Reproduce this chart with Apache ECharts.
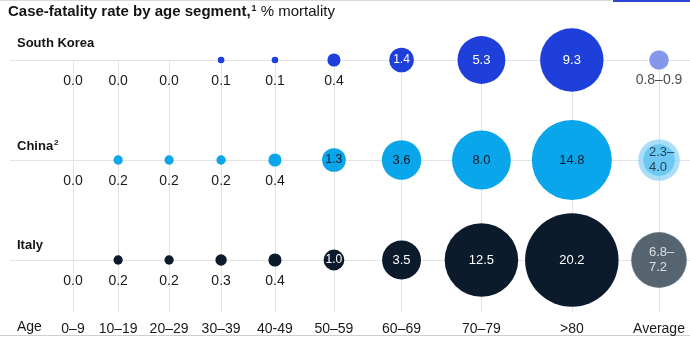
<!DOCTYPE html>
<html>
<head>
<meta charset="utf-8">
<script src="https://cdn.jsdelivr.net/npm/echarts@6/dist/echarts.min.js"></script>
<style>
html,body{margin:0;padding:0;background:#fff;}
#chart{width:690px;height:337px;}
</style>
</head>
<body>
<div id="chart"></div>
<script>
// ---- data ----
const ageGroups = ['0–9', '10–19', '20–29', '30–39', '40-49', '50–59', '60–69', '70–79', '>80', 'Average'];
const countries = ['South Korea', 'China', 'Italy'];
const southKorea = [0.0, 0.0, 0.0, 0.1, 0.1, 0.4, 1.4, 5.3, 9.3];
const china = [0.0, 0.2, 0.2, 0.2, 0.4, 1.3, 3.6, 8.0, 14.8];
const italy = [0.0, 0.2, 0.2, 0.3, 0.4, 1.0, 3.5, 12.5, 20.2];
const southKoreaAverage = [0.8, 0.9];
const chinaAverage = [2.3, 4.0];
const italyAverage = [6.8, 7.2];

// ---- styling / layout ----
const FONT = "'Liberation Sans', Arial, sans-serif";
const R_K = 10.4; // px radius per sqrt(%)
const radius = v => R_K * Math.sqrt(v);
const colors = {
  'South Korea': {main: '#1f3fdb', avgOuter: '#8497ec', avgInner: '#7f92ea', inText: '#ffffff'},
  'China': {main: '#0aa6ec', avgOuter: '#93d5f6', avgInner: '#5ec4f2', inText: '#0b1b2b'},
  'Italy': {main: '#0b1b2b', avgOuter: '#51606b', avgInner: '#4e5d68', inText: '#ffffff'}
};
const rowsData = [southKorea, china, italy];
const avgData = [southKoreaAverage, chinaAverage, italyAverage];

// column positions derived from the largest bubble in each column
const maxR = ageGroups.map((_, i) => Math.max(...rowsData.map((r, k) => radius(i < 9 ? r[i] : Math.max(...avgData[k])))));
const rawPos = [0];
for (let i = 1; i < ageGroups.length; i++) rawPos.push(rawPos[i - 1] + 31 + 6.45 * Math.sqrt(maxR[i - 1] + maxR[i]));
const span = 586;
const pos = rawPos.map(p => p * span / rawPos[rawPos.length - 1]);

function pointSeries(name, rowIdx, values) {
  const c = colors[name];
  return {
    type: 'scatter', name: name, z: 5,
    symbolSize: v => 2 * radius(v[2]),
    itemStyle: {color: c.main, opacity: 1},
    data: values.map((v, i) => {
      const inside = v >= 1;
      return {
        value: [pos[i], rowIdx, v],
        label: {
          show: true, position: 'inside',
          formatter: v.toFixed(1),
          offset: inside ? [0, 0] : [0, 21],
          color: inside ? c.inText : '#1a1a1a',
          fontSize: inside ? (v < 2 ? 12 : 13) : 14,
          fontFamily: FONT
        }
      };
    })
  };
}

function avgSeries(name, rowIdx, range) {
  const c = colors[name];
  const lo = range[0], hi = range[1];
  const inside = lo >= 1;
  const txt = inside ? lo.toFixed(1) + '–\n' + hi.toFixed(1) : lo.toFixed(1) + '–' + hi.toFixed(1);
  return {
    type: 'scatter', name: name + ' average', z: 5,
    symbolSize: v => 2 * radius(v[2]),
    data: [
      {value: [pos[9], rowIdx, hi], itemStyle: {color: c.avgOuter}},
      {value: [pos[9], rowIdx, lo], itemStyle: {color: c.avgInner},
        label: {
          show: true, position: 'inside', formatter: txt,
          align: inside ? 'left' : 'center',
          offset: inside ? [-10, 0] : [0, 20],
          lineHeight: 15,
          color: inside ? c.inText : '#1a1a1a',
          fontSize: inside ? 13 : 14, fontFamily: FONT
        }}
    ]
  };
}

const series = [];
countries.forEach((n, k) => {
  series.push(pointSeries(n, k, rowsData[k]));
  series.push(avgSeries(n, k, avgData[k]));
});
// grid lines
series.push({
  type: 'line', data: [], silent: true, z: 1,
  markLine: {
    silent: true, symbol: 'none', label: {show: false},
    lineStyle: {color: '#e3e3e3', width: 1, type: 'solid'},
    data: countries.map((_, k) => ({yAxis: k})).concat(
      pos.map(p => [{coord: [p, 0]}, {coord: [p, 2.52]}]))
  }
});

const chart = echarts.init(document.getElementById('chart'), null, {renderer: 'canvas'});
chart.setOption({
  animation: false,
  backgroundColor: '#fff',
  title: [
    {text: 'Case-fatality rate by age segment,{s|1}{r| % mortality}', left: 8, top: 4, padding: 0,
      textStyle: {fontFamily: FONT, fontSize: 15, fontWeight: 'bold', color: '#141414',
        rich: {s: {fontSize: 9, fontWeight: 'bold', verticalAlign: 'top', padding: [0,0,7,1], color: '#141414', fontFamily: FONT},
               r: {fontSize: 15, fontWeight: 'normal', color: '#141414', fontFamily: FONT}}}},
    {text: 'South Korea', left: 17, top: 37, padding: 0, textStyle: {fontFamily: FONT, fontSize: 13, fontWeight: 'bold', color: '#141414'}},
    {text: 'China{s|2}', left: 17, top: 139, padding: 0, textStyle: {fontFamily: FONT, fontSize: 13, fontWeight: 'bold', color: '#141414',
      rich: {s: {fontSize: 8, fontWeight: 'bold', verticalAlign: 'top', padding: [0,0,6,1], color: '#141414', fontFamily: FONT}}}},
    {text: 'Italy', left: 17, top: 239, padding: 0, textStyle: {fontFamily: FONT, fontSize: 13, fontWeight: 'bold', color: '#141414'}},
    {text: 'Age', left: 17, top: 320, padding: 0, textStyle: {fontFamily: FONT, fontSize: 14, fontWeight: 'normal', color: '#1a1a1a'}}
  ],
  graphic: [
    {type: 'rect', left: 0, top: 0, shape: {width: 612, height: 1}, style: {fill: '#d9d9d9'}},
    {type: 'rect', left: 613, top: 0, shape: {width: 77, height: 2}, style: {fill: '#2a45d6'}},
    {type: 'rect', left: 0, top: 335, shape: {width: 690, height: 1}, style: {fill: '#cfcfcf'}}
  ],
  grid: {left: 10, right: 0, top: 60, bottom: 25, containLabel: false},
  xAxis: {
    type: 'value', min: -63, max: span + 31,
    axisLine: {show: false}, axisTick: {show: false}, splitLine: {show: false},
    axisLabel: {
      customValues: pos, margin: 10, fontFamily: FONT, fontSize: 14, color: '#1a1a1a',
      formatter: v => { const i = pos.findIndex(p => Math.abs(p - v) < 0.5); return i >= 0 ? ageGroups[i] : ''; }
    }
  },
  yAxis: {
    type: 'value', min: 0, max: 2.52, inverse: true, show: false
  },
  series: series
});
</script>
</body>
</html>
